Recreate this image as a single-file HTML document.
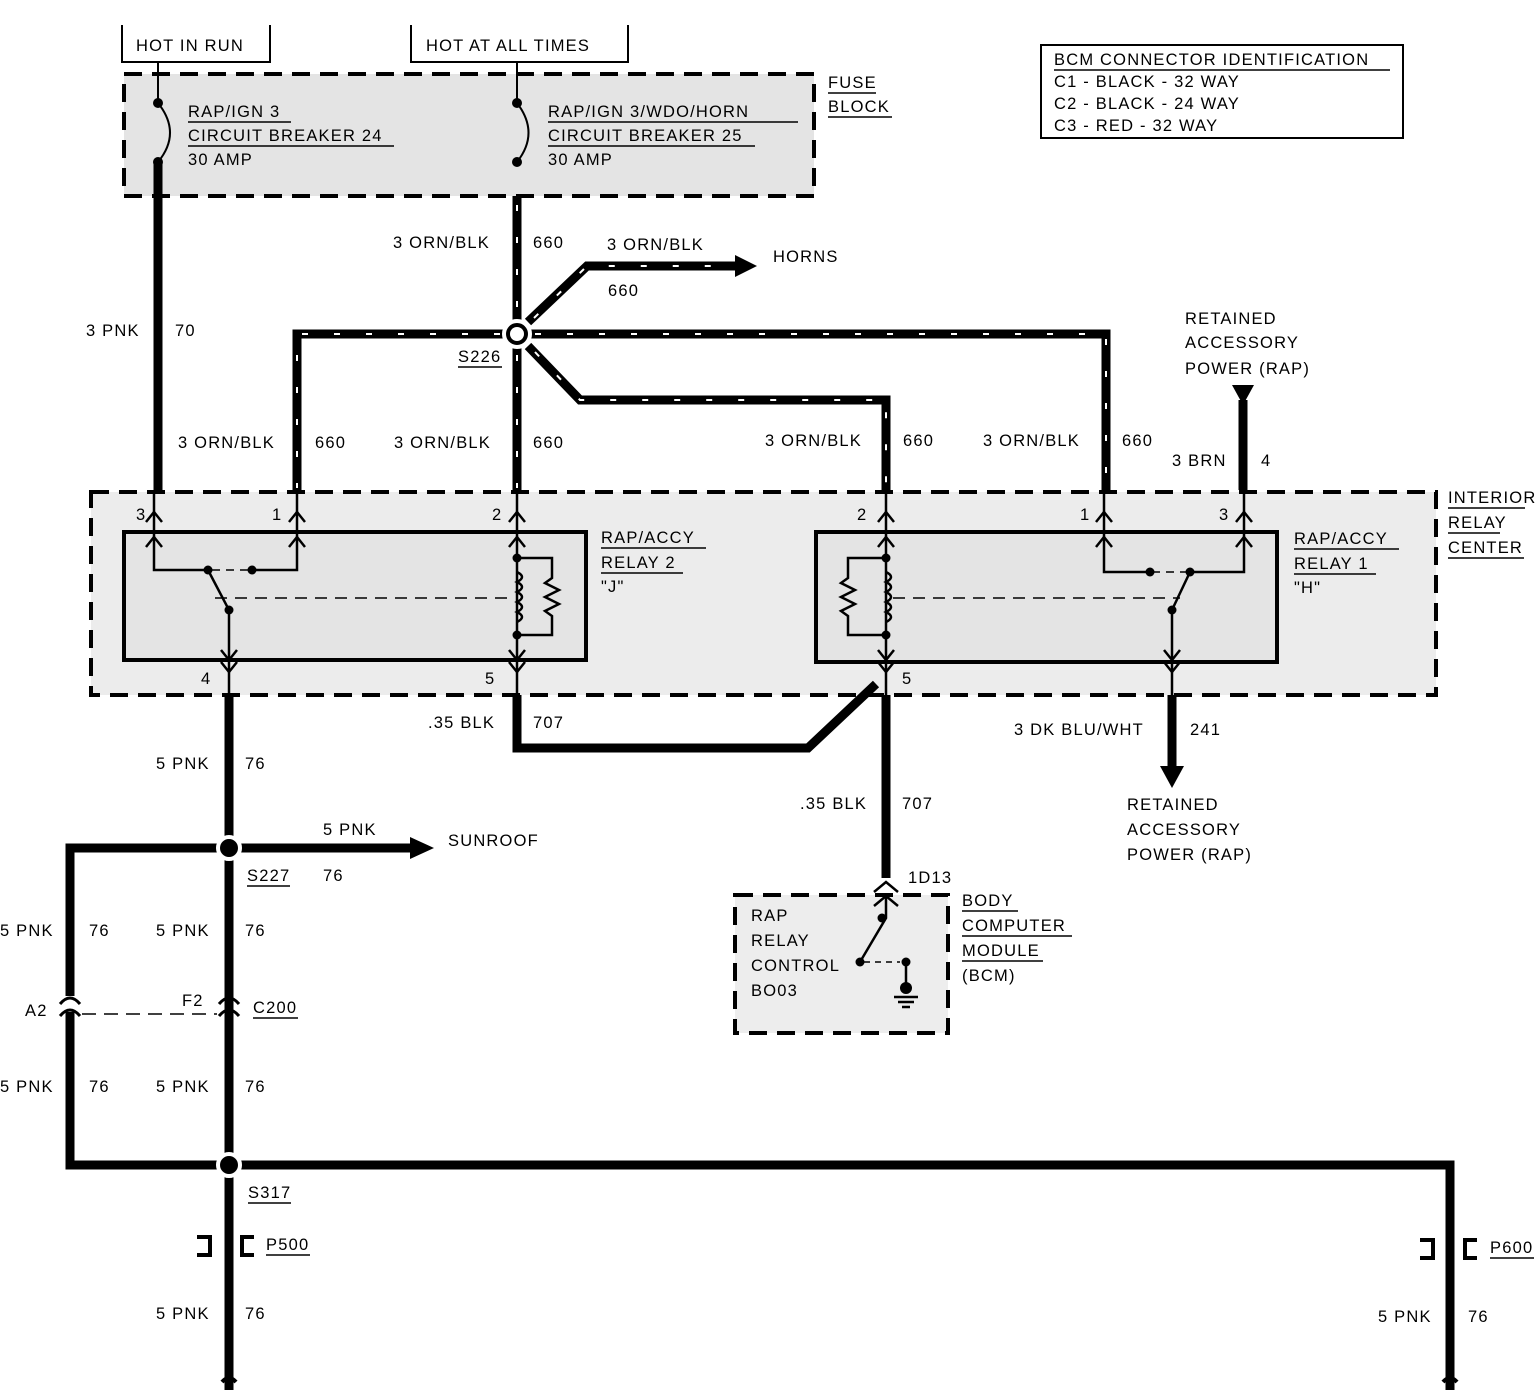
<!DOCTYPE html>
<html><head><meta charset="utf-8"><style>
html,body{margin:0;padding:0;background:#fff}
svg{display:block}
text{font-family:"Liberation Sans",sans-serif;font-size:16.5px;fill:#000;letter-spacing:1.2px}
</style></head><body>
<svg width="1540" height="1392" viewBox="0 0 1540 1392" xmlns="http://www.w3.org/2000/svg">
<rect x="124" y="74" width="690" height="122" fill="#e4e4e4"/>
<rect x="91" y="492" width="1345" height="203" fill="#ececec"/>
<rect x="124" y="532" width="462" height="128" fill="#e4e4e4"/>
<rect x="816" y="532" width="461" height="130" fill="#e4e4e4"/>
<rect x="735" y="895" width="213" height="138" fill="#ededed"/>

<g fill="none" stroke="#000" stroke-width="4" stroke-dasharray="18 10">
<rect x="124" y="74" width="690" height="122"/>
<rect x="91" y="492" width="1345" height="203"/>
<rect x="735" y="895" width="213" height="138"/>
</g>
<g fill="none" stroke="#000" stroke-width="4">
<rect x="124" y="532" width="462" height="128"/>
<rect x="816" y="532" width="461" height="130"/>
</g>

<g fill="none" stroke="#000" stroke-width="2">
<path d="M122,25 V62 H270 V25"/>
<path d="M411,25 V62 H628 V25"/>
<rect x="1041" y="45" width="362" height="93"/>
</g>
<text x="136" y="51">HOT IN RUN</text>
<text x="426" y="51">HOT AT ALL TIMES</text>
<text x="1054" y="65">BCM CONNECTOR IDENTIFICATION</text>
<line x1="1054" y1="70" x2="1390" y2="70" stroke="#000" stroke-width="1.5"/>
<text x="1054" y="87">C1 - BLACK - 32 WAY</text>
<text x="1054" y="109">C2 - BLACK - 24 WAY</text>
<text x="1054" y="131">C3 - RED - 32 WAY</text>

<g stroke="#000" stroke-width="2" fill="none">
<line x1="158" y1="62" x2="158" y2="103"/>
<path d="M158,103 Q182,133 158,162"/>
<line x1="517" y1="62" x2="517" y2="103"/>
<path d="M517,103 Q540,133 517,162"/>
</g>
<g fill="#000"><circle cx="158" cy="103" r="5"/><circle cx="158" cy="162" r="5"/><circle cx="517" cy="103" r="5"/><circle cx="517" cy="162" r="5"/></g>
<text x="188" y="117">RAP/IGN 3</text>
<line x1="188" y1="122" x2="291" y2="122" stroke="#000" stroke-width="1.5"/>
<text x="188" y="141">CIRCUIT BREAKER 24</text>
<line x1="188" y1="146" x2="394" y2="146" stroke="#000" stroke-width="1.5"/>
<text x="188" y="165">30 AMP</text>
<text x="548" y="117">RAP/IGN 3/WDO/HORN</text>
<line x1="548" y1="122" x2="798" y2="122" stroke="#000" stroke-width="1.5"/>
<text x="548" y="141">CIRCUIT BREAKER 25</text>
<line x1="548" y1="146" x2="755" y2="146" stroke="#000" stroke-width="1.5"/>
<text x="548" y="165">30 AMP</text>
<text x="828" y="88">FUSE</text>
<line x1="828" y1="93" x2="876" y2="93" stroke="#000" stroke-width="1.5"/>
<text x="828" y="112">BLOCK</text>
<line x1="828" y1="117" x2="892" y2="117" stroke="#000" stroke-width="1.5"/>

<g stroke="#000" stroke-width="9" fill="none" stroke-linejoin="miter">
<line x1="158" y1="162" x2="158" y2="490"/>
<line x1="517" y1="196" x2="517" y2="490"/>
<path d="M528,322 L587,266 H740"/>
<path d="M517,334 H297 V490"/>
<path d="M517,334 H1106 V490"/>
<path d="M528,346 L580,400 H886 V490"/>
<line x1="1243" y1="400" x2="1243" y2="490"/>
<line x1="229" y1="695" x2="229" y2="1390"/>
<path d="M517,695 V748 H808 L876,684"/>
<line x1="886" y1="695" x2="886" y2="878"/>
<line x1="1172" y1="695" x2="1172" y2="768"/>
<path d="M229,848 H412"/>
<path d="M229,848 H70 V996"/>
<path d="M70,1012 V1165 H1450 V1390"/>
</g>
<g stroke="#fff" stroke-width="2" fill="none" stroke-dasharray="6 26">
<line x1="517" y1="205" x2="517" y2="320"/>
<line x1="517" y1="355" x2="517" y2="488"/>
<path d="M534,318 L587,266 H735"/>
<path d="M500,334 H297 V488"/>
<path d="M535,334 H1106 V488"/>
<path d="M535,352 L580,400 H886 V488"/>
</g>
<g fill="#000">
<polygon points="735,255 757,266 735,277"/>
<polygon points="410,837 434,848 410,859"/>
<polygon points="1160,766 1184,766 1172,788"/>
<polygon points="1232,385 1254,385 1243,405"/>
</g>
<circle cx="517" cy="334" r="13" fill="#000" stroke="#fff" stroke-width="4"/>
<circle cx="517" cy="334" r="7" fill="#fff"/>
<circle cx="229" cy="848" r="11" fill="#000" stroke="#fff" stroke-width="4"/>
<circle cx="229" cy="1165" r="11" fill="#000" stroke="#fff" stroke-width="4"/>

<g stroke="#000" stroke-width="2.5" fill="none">
<path d="M146,522 L154,512 L162,522"/><path d="M146,547 L154,537 L162,547"/>
<path d="M289,522 L297,512 L305,522"/><path d="M289,547 L297,537 L305,547"/>
<path d="M509,522 L517,512 L525,522"/><path d="M509,547 L517,537 L525,547"/>
<path d="M878,522 L886,512 L894,522"/><path d="M878,547 L886,537 L894,547"/>
<path d="M1096,522 L1104,512 L1112,522"/><path d="M1096,547 L1104,537 L1112,547"/>
<path d="M1236,522 L1244,512 L1252,522"/><path d="M1236,547 L1244,537 L1252,547"/>
<path d="M221,650 L229,660 L237,650"/><path d="M221,662 L229,672 L237,662"/>
<path d="M509,650 L517,660 L525,650"/><path d="M509,662 L517,672 L525,662"/>
<path d="M878,650 L886,660 L894,650"/><path d="M878,662 L886,672 L894,662"/>
<path d="M1164,650 L1172,660 L1180,650"/><path d="M1164,662 L1172,672 L1180,662"/>
<line x1="229" y1="660" x2="229" y2="695"/>
<line x1="517" y1="660" x2="517" y2="695"/>
<line x1="886" y1="660" x2="886" y2="695"/>
<line x1="1172" y1="660" x2="1172" y2="695"/>
<line x1="154" y1="490" x2="154" y2="537"/>
<line x1="297" y1="490" x2="297" y2="537"/>
<line x1="517" y1="490" x2="517" y2="537"/>
<line x1="886" y1="490" x2="886" y2="537"/>
<line x1="1104" y1="490" x2="1104" y2="537"/>
<line x1="1244" y1="490" x2="1244" y2="537"/>
</g>
<g stroke="#000" stroke-width="2.5" fill="none">
<path d="M154,537 V570 H208"/>
<path d="M252,570 H297 V537"/>
<path d="M208,570 L229,610 V660"/>
<path d="M517,537 V660"/>
<path d="M517,558 H552 V578 l-7,5 l14,7 l-14,7 l14,7 l-14,7 l7,5 V635 H517"/>
<path d="M517,572 q10,5 0,10 q10,5 0,10 q10,5 0,10 q10,5 0,10 q10,5 0,10"/>
</g>
<line x1="215" y1="598" x2="510" y2="598" stroke="#000" stroke-width="1.5" stroke-dasharray="12 8"/>
<line x1="212" y1="570" x2="250" y2="570" stroke="#000" stroke-width="1.5" stroke-dasharray="8 6"/>
<g fill="#000"><circle cx="208" cy="570" r="4.5"/><circle cx="252" cy="570" r="4.5"/><circle cx="229" cy="610" r="4.5"/><circle cx="517" cy="558" r="4.5"/><circle cx="517" cy="635" r="4.5"/></g>
<g stroke="#000" stroke-width="2.5" fill="none">
<path d="M1244,537 V572 H1190"/>
<path d="M1150,572 H1104 V537"/>
<path d="M1190,572 L1172,610 V660"/>
<path d="M886,537 V660"/>
<path d="M886,558 H848 V578 l-7,5 l14,7 l-14,7 l14,7 l-14,7 l7,5 V635 H886"/>
<path d="M886,572 q10,5 0,10 q10,5 0,10 q10,5 0,10 q10,5 0,10 q10,5 0,10"/>
</g>
<line x1="893" y1="598" x2="1180" y2="598" stroke="#000" stroke-width="1.5" stroke-dasharray="12 8"/>
<line x1="1152" y1="572" x2="1188" y2="572" stroke="#000" stroke-width="1.5" stroke-dasharray="8 6"/>
<g fill="#000"><circle cx="1190" cy="572" r="4.5"/><circle cx="1150" cy="572" r="4.5"/><circle cx="1172" cy="610" r="4.5"/><circle cx="886" cy="558" r="4.5"/><circle cx="886" cy="635" r="4.5"/></g>

<g stroke="#000" stroke-width="2.5" fill="none">
<path d="M874,892 L886,882 L898,892"/>
<path d="M874,906 L886,896 L898,906"/>
<path d="M886,896 V918 L860,962"/>
<line x1="864" y1="962" x2="900" y2="962" stroke-dasharray="6 5" stroke-width="1.5"/>
<path d="M906,962 V988"/>
<line x1="894" y1="997" x2="918" y2="997"/><line x1="898" y1="1002" x2="914" y2="1002"/><line x1="902" y1="1007" x2="910" y2="1007"/>
</g>
<g fill="#000"><circle cx="882" cy="918" r="4.5"/><circle cx="860" cy="962" r="4.5"/><circle cx="906" cy="962" r="4.5"/><circle cx="906" cy="988" r="6"/></g>
<text x="751" y="921">RAP</text>
<text x="751" y="946">RELAY</text>
<text x="751" y="971">CONTROL</text>
<text x="751" y="996">BO03</text>
<text x="908" y="883">1D13</text>
<text x="962" y="906">BODY</text>
<line x1="962" y1="911" x2="1018" y2="911" stroke="#000" stroke-width="1.5"/>
<text x="962" y="931">COMPUTER</text>
<line x1="962" y1="936" x2="1072" y2="936" stroke="#000" stroke-width="1.5"/>
<text x="962" y="956">MODULE</text>
<line x1="962" y1="961" x2="1043" y2="961" stroke="#000" stroke-width="1.5"/>
<text x="962" y="981">(BCM)</text>

<g stroke="#000" stroke-width="3" fill="none">
<path d="M60,1004 Q70,992 80,1004"/><path d="M60,1016 Q70,1004 80,1016"/>
<path d="M219,1004 Q229,992 239,1004"/><path d="M219,1016 Q229,1004 239,1016"/>
</g>
<line x1="82" y1="1014" x2="217" y2="1014" stroke="#000" stroke-width="1.5" stroke-dasharray="14 8"/>
<text x="25" y="1016">A2</text>
<text x="182" y="1006">F2</text>
<text x="253" y="1013">C200</text>
<line x1="253" y1="1018" x2="298" y2="1018" stroke="#000" stroke-width="1.5"/>

<g stroke="#000" stroke-width="4" fill="none">
<path d="M197,1237 H210 V1255 H197"/><path d="M254,1237 H242 V1255 H254"/>
<path d="M1420,1240 H1433 V1258 H1420"/><path d="M1477,1240 H1465 V1258 H1477"/>
<path d="M222,1382 q7,-8 14,0"/><path d="M1443,1382 q7,-8 14,0"/>
</g>
<text x="266" y="1250">P500</text>
<line x1="266" y1="1255" x2="310" y2="1255" stroke="#000" stroke-width="1.5"/>
<text x="1490" y="1253">P600</text>
<line x1="1490" y1="1258" x2="1534" y2="1258" stroke="#000" stroke-width="1.5"/>

<text x="86" y="336">3 PNK</text><text x="175" y="336">70</text>
<text x="393" y="248">3 ORN/BLK</text><text x="533" y="248">660</text>
<text x="607" y="250">3 ORN/BLK</text><text x="608" y="296">660</text>
<text x="773" y="262">HORNS</text>
<text x="458" y="362">S226</text>
<line x1="458" y1="367" x2="502" y2="367" stroke="#000" stroke-width="1.5"/>
<text x="178" y="448">3 ORN/BLK</text><text x="315" y="448">660</text>
<text x="394" y="448">3 ORN/BLK</text><text x="533" y="448">660</text>
<text x="765" y="446">3 ORN/BLK</text><text x="903" y="446">660</text>
<text x="983" y="446">3 ORN/BLK</text><text x="1122" y="446">660</text>
<text x="1172" y="466">3 BRN</text><text x="1261" y="466">4</text>
<text x="1185" y="324">RETAINED</text>
<text x="1185" y="348">ACCESSORY</text>
<text x="1185" y="374">POWER (RAP)</text>
<text x="1448" y="503">INTERIOR</text>
<line x1="1448" y1="508" x2="1525" y2="508" stroke="#000" stroke-width="1.5"/>
<text x="1448" y="528">RELAY</text>
<line x1="1448" y1="533" x2="1500" y2="533" stroke="#000" stroke-width="1.5"/>
<text x="1448" y="553">CENTER</text>
<line x1="1448" y1="558" x2="1524" y2="558" stroke="#000" stroke-width="1.5"/>
<text x="136" y="520">3</text><text x="272" y="520">1</text><text x="492" y="520">2</text>
<text x="857" y="520">2</text><text x="1080" y="520">1</text><text x="1219" y="520">3</text>
<text x="201" y="684">4</text><text x="485" y="684">5</text><text x="902" y="684">5</text>
<text x="601" y="543">RAP/ACCY</text>
<line x1="601" y1="548" x2="706" y2="548" stroke="#000" stroke-width="1.5"/>
<text x="601" y="568">RELAY 2</text>
<line x1="601" y1="573" x2="683" y2="573" stroke="#000" stroke-width="1.5"/>
<text x="601" y="592">"J"</text>
<text x="1294" y="544">RAP/ACCY</text>
<line x1="1294" y1="549" x2="1399" y2="549" stroke="#000" stroke-width="1.5"/>
<text x="1294" y="569">RELAY 1</text>
<line x1="1294" y1="574" x2="1376" y2="574" stroke="#000" stroke-width="1.5"/>
<text x="1294" y="593">"H"</text>
<text x="428" y="728">.35 BLK</text><text x="533" y="728">707</text>
<text x="800" y="809">.35 BLK</text><text x="902" y="809">707</text>
<text x="1014" y="735">3 DK BLU/WHT</text><text x="1190" y="735">241</text>
<text x="1127" y="810">RETAINED</text>
<text x="1127" y="835">ACCESSORY</text>
<text x="1127" y="860">POWER (RAP)</text>
<text x="156" y="769">5 PNK</text><text x="245" y="769">76</text>
<text x="323" y="835">5 PNK</text>
<text x="448" y="846">SUNROOF</text>
<text x="247" y="881">S227</text>
<line x1="247" y1="886" x2="290" y2="886" stroke="#000" stroke-width="1.5"/>
<text x="323" y="881">76</text>
<text x="0" y="936">5 PNK</text><text x="89" y="936">76</text>
<text x="156" y="936">5 PNK</text><text x="245" y="936">76</text>
<text x="0" y="1092">5 PNK</text><text x="89" y="1092">76</text>
<text x="156" y="1092">5 PNK</text><text x="245" y="1092">76</text>
<text x="248" y="1198">S317</text>
<line x1="248" y1="1203" x2="291" y2="1203" stroke="#000" stroke-width="1.5"/>
<text x="156" y="1319">5 PNK</text><text x="245" y="1319">76</text>
<text x="1378" y="1322">5 PNK</text><text x="1468" y="1322">76</text>
</svg>
</body></html>
